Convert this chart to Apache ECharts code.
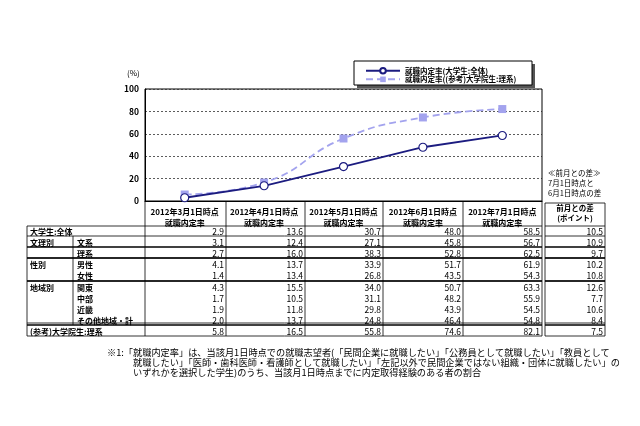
<!DOCTYPE html>
<html><head><meta charset="utf-8">
<script src="https://cdn.jsdelivr.net/npm/echarts@6/dist/echarts.min.js"></script>
<style>html,body{margin:0;padding:0;background:#fff}#c{width:640px;height:426px}</style>
</head><body><div id="c"></div>
<script>
var categories = ['2012年3月1日時点\n就職内定率','2012年4月1日時点\n就職内定率','2012年5月1日時点\n就職内定率','2012年6月1日時点\n就職内定率','2012年7月1日時点\n就職内定率'];
var seriesNames = ['就職内定率(大学生:全体)','就職内定率((参考)大学院生:理系)'];
var undergrad = [2.9,13.6,30.7,48.0,58.5];
var gradSci = [5.8,16.5,55.8,74.6,82.1];
var yTicks = [0,20,40,60,80,100];
var groupLabels = ['大学生:全体','文理別','','性別','','地域別','','','','(参考)大学院生:理系'];
var subLabels = ['','文系','理系','男性','女性','関東','中部','近畿','その他地域・計',''];
var tableValues = [
 [2.9,13.6,30.7,48.0,58.5],
 [3.1,12.4,27.1,45.8,56.7],
 [2.7,16.0,38.3,52.8,62.5],
 [4.1,13.7,33.9,51.7,61.9],
 [1.4,13.4,26.8,43.5,54.3],
 [4.3,15.5,34.0,50.7,63.3],
 [1.7,10.5,31.1,48.2,55.9],
 [1.9,11.8,29.8,43.9,54.5],
 [2.0,13.7,24.8,46.4,54.8],
 [5.8,16.5,55.8,74.6,82.1]];
var diffValues = [10.5,10.9,9.7,10.2,10.8,12.6,7.7,10.6,8.4,7.5];
var footnote = ['※1:「就職内定率」は、当該月1日時点での就職志望者(「民間企業に就職したい」「公務員として就職したい」「教員として',
 '就職したい」「医師・歯科医師・看護師として就職したい」「左記以外で民間企業ではない組織・団体に就職したい」の',
 'いずれかを選択した学生)のうち、当該月1日時点までに内定取得経験のある者の割合'];

var F = '"Noto Sans CJK JP", sans-serif';
var rowEdges = [226,236,247,258,269.5,281,292,303,314,325,336];
var colEdges = [145,226,305,383,463,542];
var g = [];
function line(x1,y1,x2,y2,w){g.push({type:'line',shape:{x1:x1,y1:y1,x2:x2,y2:y2},style:{stroke:'#000',lineWidth:w||0.8},z:10});}
function txt(x,y,s,o){o=o||{};g.push({type:'text',x:x,y:y,style:{text:s,font:(o.bold?'bold ':'')+(o.size||8.5)+'px '+F,fill:'#000',align:o.align||'left',verticalAlign:o.va||'middle',lineHeight:o.lh||11},z:11});}
// table grid
[0,1,2,3,5,9,10].forEach(function(i){var w=(i===2||i===4||i===9)?1.5:0.8;line(27,rowEdges[i],542,rowEdges[i],w);line(545,rowEdges[i],605,rowEdges[i],w);});
line(27,rowEdges[3],542,rowEdges[3],1.5);line(545,rowEdges[3],605,rowEdges[3],1.5);
line(27,rowEdges[5],542,rowEdges[5],1.5);line(545,rowEdges[5],605,rowEdges[5],1.5);
line(27,rowEdges[9]-2,542,rowEdges[9]-2,0.8);line(545,rowEdges[9]-2,605,rowEdges[9]-2,0.8);
line(27,226,27,336);line(73,236,73,325);
colEdges.forEach(function(x){line(x,201,x,336);});
line(545,203,545,336);line(605,203,605,336);line(545,203,605,203);
for(var r=0;r<10;r++){
  var cy=(rowEdges[r]+rowEdges[r+1])/2+1;
  if(groupLabels[r]) txt(30,cy,groupLabels[r],{bold:true,size:8});
  if(subLabels[r]) txt(77,cy,subLabels[r],{bold:true,size:8});
  for(var c=0;c<5;c++) txt(colEdges[c+1]-2,cy,tableValues[r][c].toFixed(1),{align:'right',size:8.5});
  txt(603,cy,diffValues[r].toFixed(1),{align:'right',size:8.5});
}
txt(575,213,'前月との差\n(ポイント)',{bold:true,size:7.5,align:'center',lh:10});
txt(548,183,'≪前月との差≫\n7月1日時点と\n6月1日時点の差',{size:7.5,lh:10});
txt(127,73,'(%)',{size:8});
txt(107,353,footnote[0],{size:9.2});
txt(133,363,footnote[1],{size:9.2});
txt(133,373,footnote[2],{size:9.2});
// legend box
g.push({type:'rect',shape:{x:357,y:64,width:178,height:24},style:{fill:'#555'},z:1});
g.push({type:'rect',shape:{x:354,y:61,width:178,height:24},style:{fill:'#fff',stroke:'#000',lineWidth:1},z:2});

var chart = echarts.init(document.getElementById('c'));
chart.setOption({
  animation:false,
  grid:{left:145,right:98,top:89,bottom:225,show:true,borderColor:'#000',borderWidth:1},
  legend:{left:360,top:62,orient:'vertical',itemGap:1,itemWidth:34,itemHeight:7,z:5,
    textStyle:{fontSize:7.5,fontWeight:'bold',fontFamily:F,color:'#000'},data:seriesNames},
  xAxis:{type:'category',data:categories,boundaryGap:true,
    axisLine:{lineStyle:{color:'#000'}},axisTick:{show:false},
    axisLabel:{interval:0,fontSize:8,fontWeight:'bold',fontFamily:F,color:'#000',lineHeight:11,margin:5}},
  yAxis:{type:'value',min:yTicks[0],max:yTicks[yTicks.length-1],interval:20,
    axisLine:{show:true,lineStyle:{color:'#000'}},axisTick:{show:false},
    axisLabel:{fontSize:8.5,fontWeight:'bold',fontFamily:F,color:'#000',margin:6},
    splitLine:{lineStyle:{type:[2,2],color:'#333',width:0.8}}},
  series:[
    {name:seriesNames[0],type:'line',data:undergrad,symbol:'circle',symbolSize:8,
     lineStyle:{color:'#1c1c80',width:1.8},itemStyle:{color:'#fff',borderColor:'#1c1c80',borderWidth:1.2},z:4},
    {name:seriesNames[1],type:'line',data:gradSci,smooth:true,symbol:'rect',symbolSize:8,
     lineStyle:{color:'#a3a3ee',width:1.8,type:[7,4]},itemStyle:{color:'#a3a3ee'},z:3}
  ],
  graphic:g
});
</script></body></html>
